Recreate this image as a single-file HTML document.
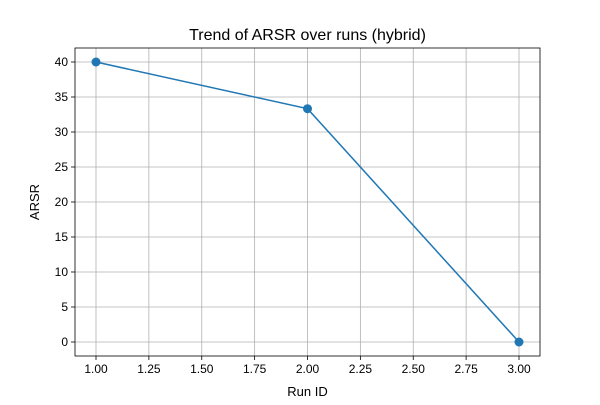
<!DOCTYPE html>
<html><head><meta charset="utf-8"><style>
body{margin:0;background:#fff;}
svg{font-family:"Liberation Sans",sans-serif;}
</style></head><body>
<svg id="chart" width="600" height="400"></svg>
<script>
const runIds=[1,2,3];
const arsrValues=[40,33.33,0];
const xTicks=[1.00,1.25,1.50,1.75,2.00,2.25,2.50,2.75,3.00];
const yTicks=[0,5,10,15,20,25,30,35,40];
const svg=document.getElementById('chart');
const NS='http://www.w3.org/2000/svg';
const L=75,R=540,T=48,B=356;
function sx(v){return 96+(v-1)*(519-96)/2;}
function sy(v){return 342-v*7;}
function mk(tag,attrs,parent){const e=document.createElementNS(NS,tag);for(const k in attrs)e.setAttribute(k,attrs[k]);(parent||svg).appendChild(e);return e;}
const grid=mk('g',{});


xTicks.forEach(t=>{
  mk('line',{x1:sx(t),x2:sx(t),y1:T,y2:B,stroke:'#b0b0b0','stroke-width':0.8},grid);
  mk('line',{x1:sx(t),x2:sx(t),y1:B,y2:B+4,stroke:'#000','stroke-width':0.8});
  const tx=mk('text',{x:sx(t),y:B+17,'text-anchor':'middle','font-size':12});
  tx.textContent=t.toFixed(2);
  
  
});
yTicks.forEach(t=>{
  mk('line',{x1:L,x2:R,y1:sy(t),y2:sy(t),stroke:'#b0b0b0','stroke-width':0.8},grid);
  mk('line',{x1:L-4,x2:L,y1:sy(t),y2:sy(t),stroke:'#000','stroke-width':0.8});
  const tx=mk('text',{x:L-7,y:sy(t)+4,'text-anchor':'end','font-size':12});
  tx.textContent=t;
  
  
});
const frame=mk('rect',{x:L,y:T,width:R-L,height:B-T,fill:'none',stroke:'#000','stroke-width':0.8});


const line=mk('polyline',{points:runIds.map((x,i)=>sx(x)+','+sy(arsrValues[i])).join(' '),fill:'none',stroke:'#1f77b4','stroke-width':1.5});


runIds.forEach((x,i)=>{
  const c=mk('circle',{cx:sx(x),cy:sy(arsrValues[i]),r:4.5,fill:'#1f77b4'});
  
  
});
const title=mk('text',{x:(L+R)/2,y:40,'text-anchor':'middle','font-size':16});
title.textContent='Trend of ARSR over runs (hybrid)';


const xl=mk('text',{x:(L+R)/2,y:396,'text-anchor':'middle','font-size':13});
xl.textContent='Run ID';


const yl=mk('text',{x:39,y:(T+B)/2,'text-anchor':'middle','font-size':13,transform:'rotate(-90 39 '+((T+B)/2)+')'});
yl.textContent='ARSR';


</script>
</body></html>
